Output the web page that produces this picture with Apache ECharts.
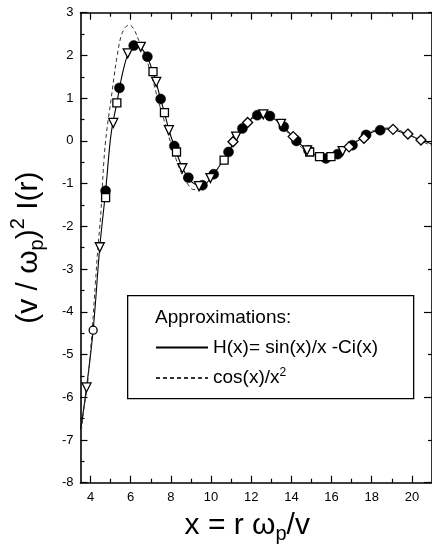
<!DOCTYPE html>
<html>
<head>
<meta charset="utf-8">
<script src="https://cdn.jsdelivr.net/npm/echarts@6/dist/echarts.min.js"></script>
<style>html,body{margin:0;padding:0;background:#fff}#c{width:432px;height:551px}</style>
</head>
<body>
<div id="c"></div>
<script>
// ---- data ----
const hX = [3.51,3.8,4.13,4.46,4.75,4.98,5.11,5.31,5.44,5.6,5.85,6.09,6.3,6.5,6.83,7.11,7.27,7.49,7.7,7.9,8.17,8.3,8.57,8.87,9.15,9.45,9.7,9.97,10.15,10.6,10.88,11.15,11.55,11.82,12.05,12.3,12.6,12.93,13.25,13.55,14.1,14.5,14.85,15.15,15.45,15.72,16.0,16.3,16.6,16.9,17.3,17.7,18.05,18.43,18.8,19.1,19.5,19.8,20.2,20.5,21.0];
const hY = [-6.75,-5.77,-4.43,-2.49,-1.17,0.0,0.42,0.89,1.23,1.6,2.02,2.2,2.24,2.19,1.96,1.6,1.36,0.98,0.62,0.26,-0.13,-0.3,-0.63,-0.87,-1.0,-1.05,-1.02,-0.88,-0.77,-0.46,-0.25,-0.03,0.29,0.44,0.53,0.59,0.61,0.57,0.48,0.35,0.09,-0.1,-0.23,-0.32,-0.38,-0.4,-0.37,-0.31,-0.23,-0.13,0.0,0.13,0.21,0.26,0.28,0.26,0.2,0.15,0.07,0.02,-0.08];
const cX = [3.51,3.64,3.85,4.08,4.24,4.37,4.5,4.57,4.66,4.75,4.88,5.03,5.17,5.33,5.52,5.72,5.93,6.15,6.4,6.75,7.05,7.35,7.65,7.95,8.25,8.55,8.85,9.15,9.45,9.75,10.05,10.4,10.8,11.2,11.6,11.95,12.3,12.6,12.95,13.3,13.7,14.1,14.5,14.9,15.3,15.7,16.1,16.5,16.9,17.3,17.7,18.1,18.5,18.9,19.3,19.7,20.1,20.5,21.0];
const cY = [-6.95,-6.37,-5.68,-4.43,-3.34,-2.49,-1.78,-1.2,-0.5,0.0,0.5,1.0,1.5,2.0,2.45,2.65,2.71,2.62,2.35,1.95,1.5,0.98,0.5,0.02,-0.42,-0.78,-1.02,-1.14,-1.14,-1.03,-0.86,-0.6,-0.28,0.05,0.34,0.52,0.62,0.64,0.58,0.46,0.26,0.05,-0.15,-0.3,-0.4,-0.43,-0.38,-0.27,-0.13,0.02,0.15,0.24,0.29,0.3,0.26,0.18,0.09,-0.01,-0.12];

const filledPts = [[4.75,-1.17],[5.44,1.24],[6.15,2.23],[6.83,1.97],[7.49,0.98],[8.17,-0.12],[8.87,-0.86],[9.57,-1.04],[10.13,-0.78],[10.87,-0.26],[11.56,0.29],[12.3,0.6],[12.93,0.58],[13.62,0.33],[14.25,0.0],[14.85,-0.22],[15.72,-0.41],[16.3,-0.31],[17.04,-0.1],[17.72,0.14],[18.42,0.25]];
const squarePts = [[4.75,-1.33],[5.31,0.89],[7.11,1.62],[7.68,0.66],[8.28,-0.26],[10.65,-0.45],[14.91,-0.26],[15.4,-0.37],[15.97,-0.37]];
const trianglePts = [[3.8,-5.77],[4.46,-2.49],[5.13,0.42],[5.85,2.05],[6.5,2.2],[7.27,1.38],[7.9,0.25],[8.57,-0.64],[9.4,-1.06],[9.97,-0.87],[11.25,0.1],[12.6,0.62],[13.48,0.4],[14.78,-0.22],[16.55,-0.24]];
const diamondPts = [[11.09,-0.02],[11.82,0.43],[14.09,0.1],[16.87,-0.14],[17.61,0.06],[19.06,0.27],[19.8,0.16],[20.45,0.02]];
const circlePts = [[4.13,-4.43]];

const xMajor = [4,6,8,10,12,14,16,18,20];
const xMinor = [5,7,9,11,13,15,17,19];
const yRightMajor = [-8,-6,-4,-2,0,2];
const yRightMinor = [-7,-5,-3,-1,1,3];

const nameH = 'H(x)= sin(x)/x -Ci(x)';
const nameC = 'cos(x)/x2';

// ---- chart ----
const FONT = 'Liberation Sans, Arial, sans-serif';
const zip = (xs, ys) => xs.map((x, i) => [x, ys[i]]);
const chart = echarts.init(document.getElementById('c'), null, {renderer: 'canvas'});
const X0 = 3.5, X1 = 21, Y0 = -8, Y1 = 3;
const black = '#000';
function xAx(pos, ticks, len, showLine, extra) {
  return Object.assign({
    type: 'value', position: pos, min: X0, max: X1, gridIndex: 0,
    axisLine: {show: showLine, onZero: false, lineStyle: {color: black, width: 1.6}},
    axisTick: {show: true, inside: true, length: len, customValues: ticks, lineStyle: {color: black, width: 1.2}},
    axisLabel: {show: false},
    splitLine: {show: false}
  }, extra || {});
}
const option = {
  backgroundColor: '#fff',
  animation: false,
  grid: {left: 80.5, top: 12.7, width: 357, height: 470, containLabel: false},
  xAxis: [
    xAx('bottom', xMajor, 7, true, {
      axisLabel: {show: true, customValues: xMajor, margin: 8, color: black, fontSize: 13, fontFamily: FONT},
      name: '{a|x = r ω}{sub|p}{a|/v}',
      nameLocation: 'middle', nameGap: 24,
      nameTextStyle: {color: black, fontFamily: FONT, fontSize: 30, padding: [0, 18, 0, 0],
        rich: {a: {fontSize: 30, fontFamily: FONT, color: black},
               sub: {fontSize: 20, fontFamily: FONT, color: black, padding: [18, 0, 0, 0]}}}
    }),
    xAx('bottom', xMinor, 4, false),
    xAx('top', xMajor, 7, true),
    xAx('top', xMinor, 4, false)
  ],
  yAxis: [
    {
      type: 'value', position: 'left', min: Y0, max: Y1, interval: 1,
      axisLine: {show: true, onZero: false, lineStyle: {color: black, width: 1.6}},
      axisTick: {show: true, inside: true, length: 7, lineStyle: {color: black, width: 1.2}},
      minorTick: {show: true, splitNumber: 2, length: 4, lineStyle: {color: black, width: 1.2}},
      axisLabel: {color: black, fontSize: 13, fontFamily: FONT, margin: 7},
      splitLine: {show: false}, minorSplitLine: {show: false},
      name: '{a|(v / ω}{sub|p}{a|)}{sup|2}{a| I(r)}',
      nameLocation: 'middle', nameGap: 32,
      nameTextStyle: {color: black, fontFamily: FONT, fontSize: 30,
        rich: {a: {fontSize: 30, fontFamily: FONT, color: black},
               sub: {fontSize: 20, fontFamily: FONT, color: black, padding: [18, 0, 0, 0]},
               sup: {fontSize: 20, fontFamily: FONT, color: black, padding: [0, 0, 20, 0]}}}
    },
    {
      type: 'value', position: 'right', min: Y0, max: Y1,
      axisLine: {show: true, onZero: false, lineStyle: {color: black, width: 1.6}},
      axisTick: {show: true, inside: true, length: 8, customValues: yRightMajor, lineStyle: {color: black, width: 1.2}},
      axisLabel: {show: false}, splitLine: {show: false}
    },
    {
      type: 'value', position: 'right', min: Y0, max: Y1,
      axisLine: {show: false},
      axisTick: {show: true, inside: true, length: 4, customValues: yRightMinor, lineStyle: {color: black, width: 1.2}},
      axisLabel: {show: false}, splitLine: {show: false}
    }
  ],
  legend: {
    show: true, orient: 'vertical', left: 150, top: 333, z: 60,
    itemWidth: 52, itemHeight: 14, itemGap: 10,
    data: [nameH, nameC],
    itemStyle: {opacity: 0, borderWidth: 0},
    formatter: function (n) { return n === nameC ? '{a|cos(x)/x}{sup|2}' : '{a|' + n + '}'; },
    textStyle: {color: black, fontFamily: FONT, fontSize: 19,
      rich: {a: {fontSize: 19, fontFamily: FONT, color: black},
             sup: {fontSize: 12, fontFamily: FONT, color: black, padding: [0, 0, 10, 0]}}},
    selectedMode: false
  },
  graphic: [
    {type: 'rect', left: 127, top: 295, z: 10, shape: {width: 286, height: 103},
     style: {fill: '#fff', stroke: black, lineWidth: 1.3}},
    {type: 'text', left: 155, top: 308, z: 11,
     style: {text: 'Approximations:', fill: black, font: '19px ' + FONT}}
  ],
  series: [
    {name: nameH, type: 'line', data: zip(hX, hY), smooth: 0.4, symbol: 'none', z: 3,
     lineStyle: {color: black, width: 1.1}, itemStyle: {color: black}},
    {name: nameC, type: 'line', data: zip(cX, cY), smooth: 0.4, symbol: 'none', z: 3,
     lineStyle: {color: '#333', width: 1, type: [4, 3]}, itemStyle: {color: '#333'}},
    {name: 'filled', type: 'scatter', data: filledPts, symbol: 'circle', symbolSize: 10, z: 5,
     itemStyle: {color: black, borderColor: black, borderWidth: 0.5, opacity: 1}},
    {name: 'square', type: 'scatter', data: squarePts, symbol: 'rect', symbolSize: 8, z: 6,
     itemStyle: {color: '#fff', borderColor: black, borderWidth: 1.3, opacity: 1}},
    {name: 'triangle', type: 'scatter', data: trianglePts, symbol: 'triangle', symbolRotate: 180, symbolSize: 9, z: 6,
     itemStyle: {color: '#fff', borderColor: black, borderWidth: 1.3, opacity: 1}},
    {name: 'diamond', type: 'scatter', data: diamondPts, symbol: 'diamond', symbolSize: 10, z: 6,
     itemStyle: {color: '#fff', borderColor: black, borderWidth: 1.3, opacity: 1}},
    {name: 'circle', type: 'scatter', data: circlePts, symbol: 'circle', symbolSize: 8, z: 6,
     itemStyle: {color: '#fff', borderColor: black, borderWidth: 1.3, opacity: 1}}
  ]
};
chart.setOption(option);
</script>
</body>
</html>
